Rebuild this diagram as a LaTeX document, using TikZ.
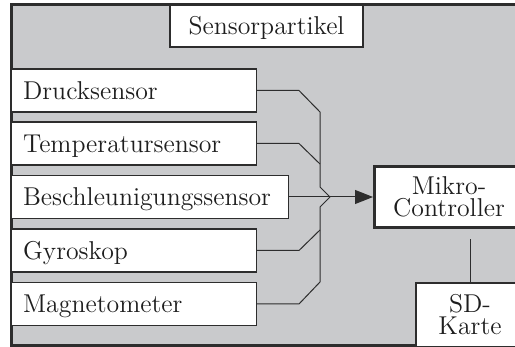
\documentclass[tikz,border=0pt]{standalone}
\usetikzlibrary{arrows.meta}
\definecolor{bg}{RGB}{201,202,204}
\definecolor{ln}{RGB}{45,45,45}
\definecolor{tx}{RGB}{30,30,30}
\begin{document}
\begin{tikzpicture}[x=0.5pt,y=-0.5pt,
  every node/.style={font=\fontsize{12.9}{11}\selectfont, text=tx},
  box/.style={draw=ln, fill=white, line width=0.6pt, rectangle, inner sep=0pt},
  sbox/.style={box, anchor=west, inner xsep=6pt, align=left, text width=#1,
    minimum height=21.5pt, text height=9pt, text depth=0pt},
  wire/.style={draw=ln, line width=0.5pt}]
\useasboundingbox (0,0) rectangle (515,347);
\clip (0,0) rectangle (515,347);
\draw[draw=ln, line width=1.5pt, fill=bg] (11,5) rectangle (620,346);
\node[box, minimum width=96.5pt, minimum height=21pt, text height=9pt, text depth=0pt] (sp) at (266.5,26) {Sensorpartikel};
\node[sbox=110.5pt] (d) at (10.5,90.5) {Drucksensor};
\node[sbox=110.5pt] (t) at (10.5,143.5) {Temperatursensor};
\node[sbox=126.5pt] (b) at (10.5,197) {Beschleunigungssensor};
\node[sbox=110.5pt] (g) at (10.5,250.5) {Gyroskop};
\node[sbox=110.5pt] (m) at (10.5,304) {Magnetometer};
\node[box, line width=1.5pt, minimum width=74.5pt, minimum height=30.5pt, align=center] (mc) at (449,197) {Mikro-\\Controller};
\node[box, minimum width=54pt, minimum height=32pt, align=center] (sd) at (470,315) {SD-\\Karte};
\coordinate (J) at (330,197);
\draw[wire] (d.east) -- (299,90.5) -- (320,112) -- (320,187) -- (J);
\draw[wire] (t.east) -- (299,143.5) -- (320,164);
\draw[wire] (g.east) -- (299,250.5) -- (320,230);
\draw[wire] (m.east) -- (299,304) -- (320,282) -- (320,207) -- (J);
\draw[wire] (b.east) -- (J);
\draw[wire, -{Triangle[length=9pt,width=7pt]}] (J) -- (mc.west);
\draw[wire] (sd.north) -- ([yshift=-5pt]mc.south -| sd.north);
\end{tikzpicture}
\end{document}
